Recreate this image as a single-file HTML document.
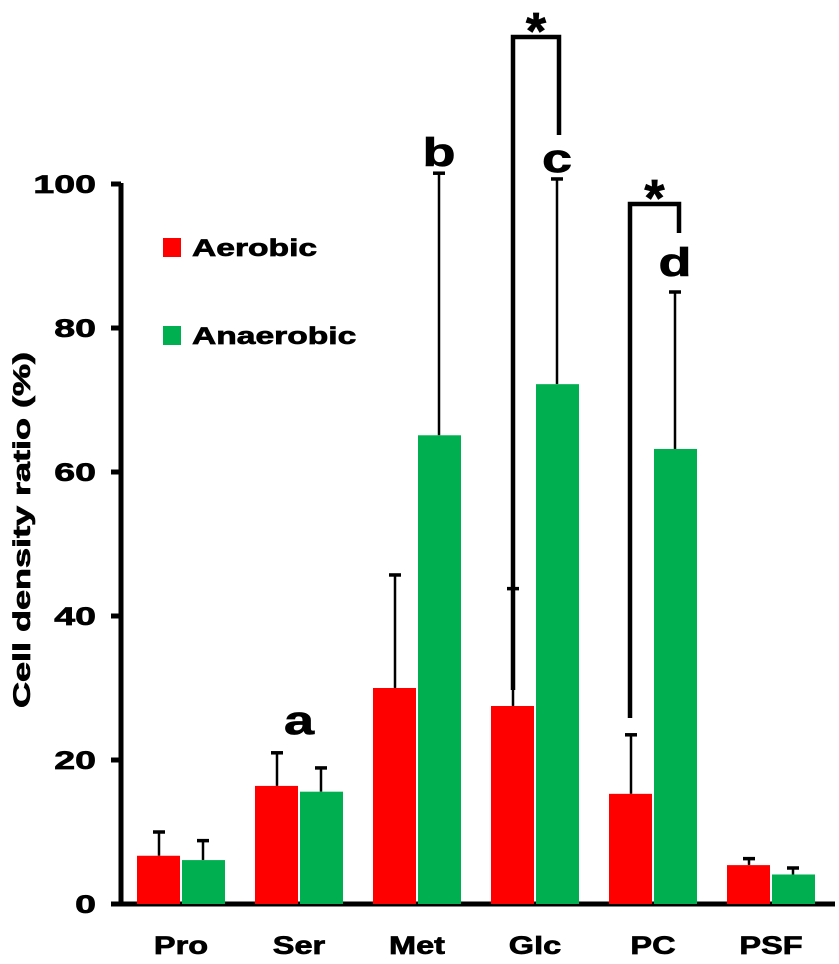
<!DOCTYPE html>
<html><head><meta charset="utf-8"><style>
html,body{margin:0;padding:0;background:#fff;}
svg{display:block;font-family:"Liberation Sans",Arial,sans-serif;font-weight:bold;}
svg text{stroke:#000;stroke-width:0.7px;}
</style></head><body>
<svg id="chart" width="839" height="964" viewBox="0 0 839 964"></svg>
<script>
const categories = ["Pro","Ser","Met","Glc","PC","PSF"];
const aerobic = [6.7, 16.4, 30.0, 27.5, 15.3, 5.4];
const aerobicErr = [3.3, 4.6, 15.7, 16.3, 8.2, 0.9];
const anaerobic = [6.1, 15.6, 65.1, 72.2, 63.2, 4.1];
const anaerobicErr = [2.7, 3.3, 36.4, 28.5, 21.8, 0.9];
const yTicks = [0, 20, 40, 60, 80, 100];
const letters = ["", "a", "b", "c", "d", ""];

const NS = "http://www.w3.org/2000/svg";
const svg = document.getElementById("chart");
const y = v => 904 - v * 7.2;
const xc = i => 181 + i * 118;
function el(tag, attrs, parent) {
  const e = document.createElementNS(NS, tag);
  for (const k in attrs) e.setAttribute(k, attrs[k]);
  (parent || svg).appendChild(e);
  return e;
}
function widen(t, f) {
  const w = t.getComputedTextLength();
  t.setAttribute("textLength", w * f);
  t.setAttribute("lengthAdjust", "spacingAndGlyphs");
}
// axes
let a = el("line", {x1:121, y1:183, x2:121, y2:906, stroke:"#000", "stroke-width":5});


a = el("line", {x1:111, y1:904, x2:835, y2:904, stroke:"#000", "stroke-width":5});


yTicks.forEach(t => {
  const tk = el("line", {x1:111, y1:y(t), x2:121, y2:y(t), stroke:"#000", "stroke-width":5});
  
  
  const tl = el("text", {x:96, y:y(t)+9, "text-anchor":"end", "font-size":25});
  tl.textContent = t;
  
  
  widen(tl, 1.5);
});
const yt = el("text", {transform:"translate(30,530) rotate(-90)", "text-anchor":"middle", "font-size":24});
yt.textContent = "Cell density ratio (%)";


widen(yt, 1.5);

function errBar(cx, top, v) {
  const l = el("line", {x1:cx, y1:y(v), x2:cx, y2:y(top), stroke:"#000", "stroke-width":2.5});
  
  
  const c = el("line", {x1:cx-6, y1:y(top), x2:cx+6, y2:y(top), stroke:"#000", "stroke-width":3.5});
  
  
}
categories.forEach((c, i) => {
  const cx = xc(i);
  errBar(cx-22, aerobic[i]+aerobicErr[i], aerobic[i]);
  errBar(cx+22, anaerobic[i]+anaerobicErr[i], anaerobic[i]);
  const r = el("rect", {x:cx-44, y:y(aerobic[i]), width:43, height:904-y(aerobic[i]), fill:"#ff0000"});
  
  
  const g = el("rect", {x:cx+1, y:y(anaerobic[i]), width:43, height:904-y(anaerobic[i]), fill:"#00b050"});
  
  
  const xl = el("text", {x:cx, y:954, "text-anchor":"middle", "font-size":25});
  xl.textContent = c;
  
  
  widen(xl, 1.3);
  if (letters[i]) {
    const lx = i === 1 ? cx : cx + 22;
    const ly = i === 1 ? 734 : i === 2 ? 166 : i === 3 ? 172 : 276;
    const lt = el("text", {x:lx, y:ly, "text-anchor":"middle", "font-size":40});
    lt.textContent = letters[i];
    
    
    widen(lt, 1.35);
  }
});
// brackets
function bracket(x1, yl, x2, yr, ytop) {
  const p = el("path", {d:`M${x1},${yl} V${ytop} H${x2} V${yr}`, fill:"none", stroke:"#000", "stroke-width":4.5});
  
  
  const s = el("text", {x:(x1+x2)/2, y:ytop+12, "text-anchor":"middle", "font-size":52});
  s.textContent = "*";
  
  
}
bracket(513, 690, 559, 135, 37);
bracket(630, 718, 679, 233, 204);
// legend
const lg = [["Aerobic","#ff0000",238],["Anaerobic","#00b050",326]];
lg.forEach(d => {
  const s = el("rect", {x:163, y:d[2], width:18, height:19, fill:d[1]});
  
  
  const t = el("text", {x:192, y:d[2]+18, "font-size":24});
  t.textContent = d[0];
  
  
  widen(t, 1.4);
});
</script>
</body></html>
